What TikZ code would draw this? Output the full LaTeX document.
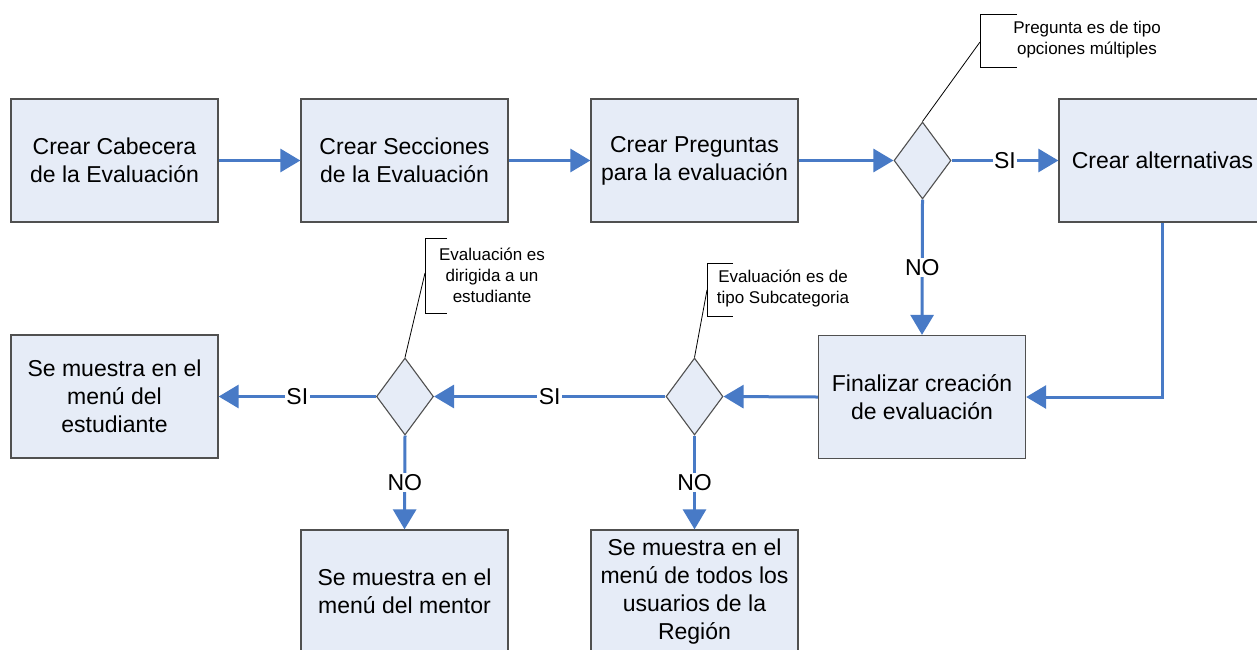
\documentclass[tikz,border=0pt]{standalone}
\usepackage{fontspec}
\setmainfont{Liberation Sans}
\usetikzlibrary{arrows.meta,shapes.geometric}
\definecolor{flowblue}{RGB}{72,122,198}
\definecolor{boxfill}{RGB}{230,236,247}
\definecolor{boxline}{RGB}{80,80,80}
\tikzset{
  procbox/.style={draw=boxline,line width=1.3pt,fill=boxfill,minimum width=207pt,minimum height=123pt,
    align=center,inner sep=2pt,font=\fontsize{23}{28}\selectfont},
  decision/.style={diamond,draw=boxline,line width=1.1pt,fill=boxfill,minimum width=57pt,minimum height=77pt,inner sep=0pt},
  flow/.style={draw=flowblue,line width=3pt,-{Triangle[length=20pt,width=23pt]}},
  lbl/.style={fill=white,inner sep=1.5pt,font=\fontsize{23}{28}\selectfont},
  note/.style={align=center,inner sep=0pt,font=\fontsize{17}{21}\selectfont},
  bracket/.style={draw=black,line width=0.8pt},
  leader/.style={draw=black,line width=0.8pt}
}
\begin{document}
\begin{tikzpicture}[x=1pt,y=-1pt]
\useasboundingbox[fill=white] (0,0) rectangle (1257,649);
% process boxes
\node[procbox] (b1) at (114.5,160.5) {Crear Cabecera\\de la Evaluación};
\node[procbox] (b2) at (404.5,160.5) {Crear Secciones\\de la Evaluación};
\node[procbox] (b3) at (694.5,160.5) {Crear Preguntas\\para la evaluación};
\node[procbox] (b4) at (1162.5,160.5) {Crear alternativas};
\node[procbox] (b5) at (922,397) {Finalizar creación\\de evaluación};
\node[procbox] (b6) at (114.5,396.5) {Se muestra en el\\menú del\\estudiante};
\node[procbox] (b7) at (404.5,591.5) {Se muestra en el\\menú del mentor};
\node[procbox] (b8) at (694.5,591.5) {Se muestra en el\\menú de todos los\\usuarios de la\\Región};
% decisions
\node[decision] (d1) at (922.5,160.5) {};
\node[decision] (d2) at (694.5,396.5) {};
\node[decision] (d3) at (405,396.5) {};
% connectors
\draw[flow] (b1.east) -- (b2.west);
\draw[flow] (b2.east) -- (b3.west);
\draw[flow] (b3.east) -- (d1.west);
\draw[flow] (d1.east) -- node[lbl]{SI} (b4.west);
\draw[flow] (d1.south) -- node[lbl]{NO} (b5.north);
\draw[flow] (b4.south) -- (b4.south |- b5.east) -- (b5.east);
\draw[flow] (b5.west) -- (d2.east);
\draw[flow] (d2.west) -- node[lbl]{SI} (d3.east);
\draw[flow] (d3.west) -- node[lbl]{SI} (b6.east);
\draw[flow] (d3.south) -- node[lbl]{NO} (b7.north);
\draw[flow] (d2.south) -- node[lbl]{NO} (b8.north);
% callouts
\node[note] (n1) at (1087,40) {Pregunta es de tipo\\opciones múltiples};
\coordinate (n1a) at (980,42);
\draw[bracket] (1017,14) -- (980,14) -- (980,67) -- (1017,67);
\draw[leader] (n1a) -- (d1.north);
\node[note] (n2) at (492,275) {Evaluación es\\dirigida a un\\estudiante};
\coordinate (n2a) at (425,273);
\draw[bracket] (447,238) -- (425,238) -- (425,313) -- (447,313);
\draw[leader] (n2a) -- (d3.north);
\node[note] (n3) at (783,288) {Evaluación es de\\tipo Subcategoria};
\coordinate (n3a) at (707,290);
\draw[bracket] (733,263) -- (707,263) -- (707,316) -- (733,316);
\draw[leader] (n3a) -- (d2.north);
\end{tikzpicture}
\end{document}
